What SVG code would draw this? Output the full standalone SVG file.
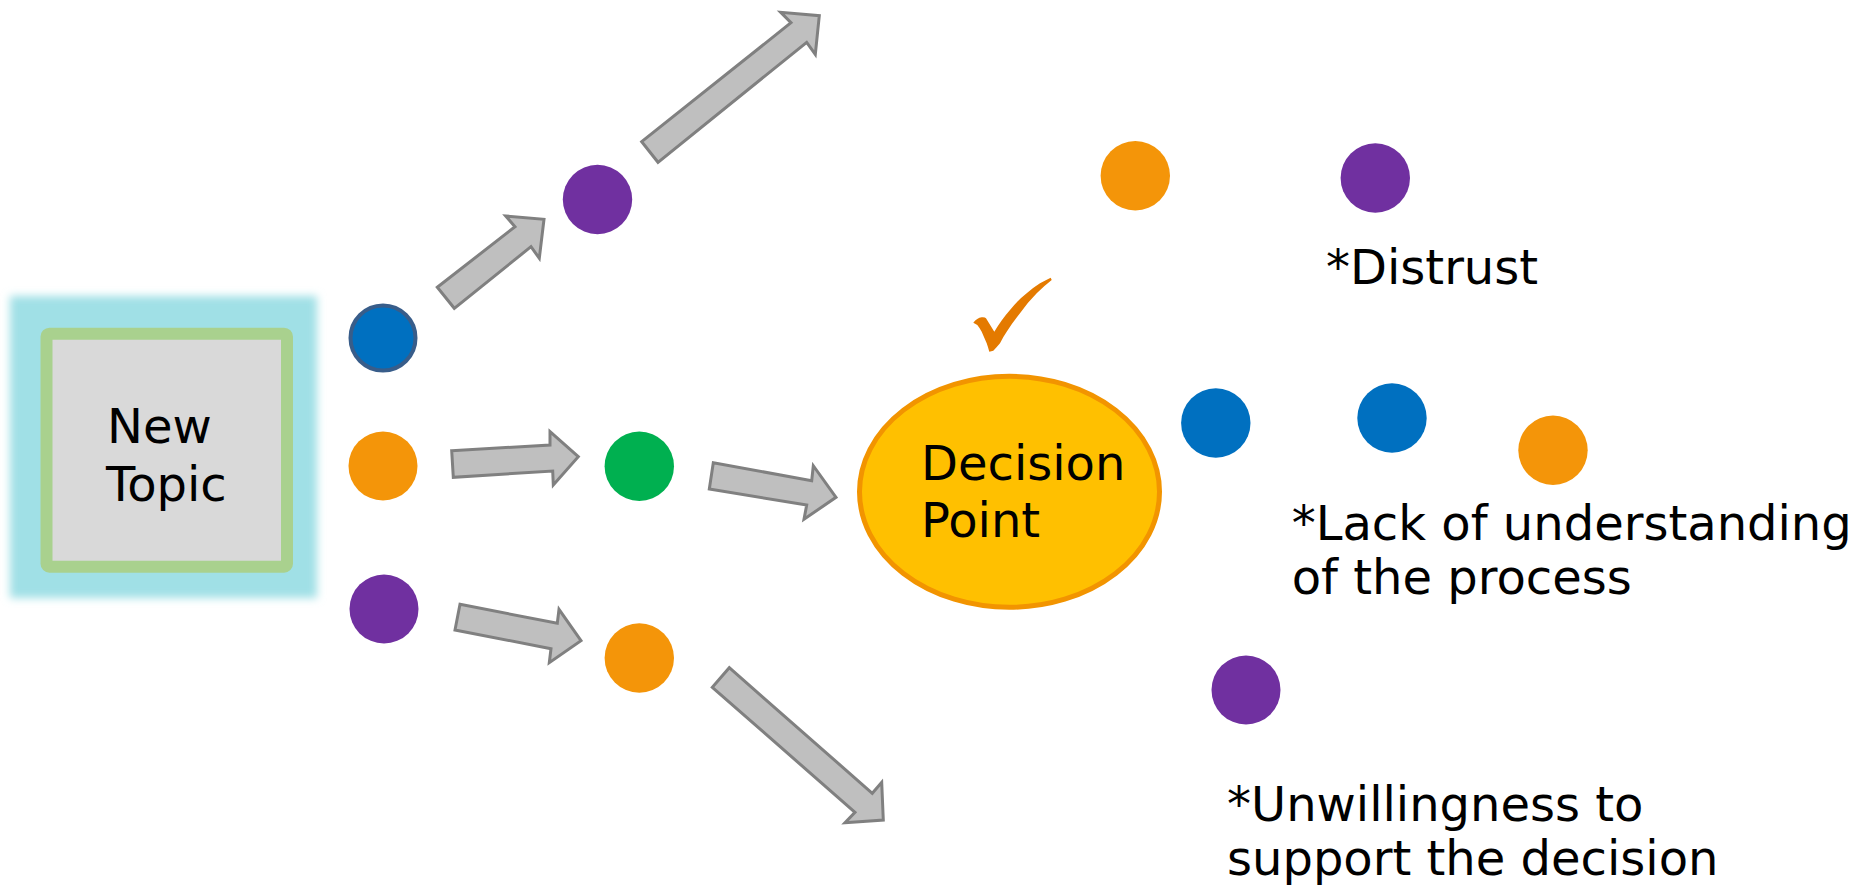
<svg xmlns="http://www.w3.org/2000/svg" width="1868" height="888" viewBox="0 0 1868 888">
<style>
  .t { font-family: "DejaVu Sans", Verdana, sans-serif; font-size: 48px; fill: #000; }
  .arrow { fill: #BFBFBF; stroke: #808080; stroke-width: 3; stroke-linejoin: miter; }
  .orange { fill: #F49509; }
  .purple { fill: #7030A0; }
  .blue { fill: #0070C0; }
  .green { fill: #00B050; }
</style>
<defs>
  <filter id="soft" x="-10%" y="-10%" width="120%" height="120%">
    <feGaussianBlur stdDeviation="4"/>
  </filter>
</defs>
<rect width="1868" height="888" fill="#FFFFFF"/>

<g id="new-topic">
  <rect x="10" y="296" width="307" height="302" fill="#A0E0E6" filter="url(#soft)"/>
  <rect x="46.5" y="333.7" width="240.5" height="233" rx="3" fill="#D9D9D9" stroke="#A9D18E" stroke-width="12"/>
  <text class="t" x="107" y="443">New</text>
  <text class="t" x="106" y="500.7">Topic</text>
</g>

<g id="dot-blue-left"><circle cx="383" cy="338" r="32.5" class="blue" stroke="#385D8A" stroke-width="4"/></g>
<g id="dot-orange-left"><circle cx="383" cy="466" r="34.5" class="orange"/></g>
<g id="dot-purple-left"><circle cx="384" cy="609" r="34.5" class="purple"/></g>
<g id="dot-purple-top"><circle cx="597.5" cy="199.5" r="34.7" class="purple"/></g>
<g id="dot-green"><circle cx="639.3" cy="466.2" r="34.7" class="green"/></g>
<g id="dot-orange-low"><circle cx="639.3" cy="658" r="34.7" class="orange"/></g>

<g id="decision-point">
  <ellipse cx="1009.5" cy="491.8" rx="150" ry="115.5" fill="#FFC000" stroke="#F29400" stroke-width="5"/>
  <text class="t" x="921" y="480">Decision</text>
  <text class="t" x="921" y="536.7">Point</text>
</g>

<g id="checkmark">
  <path d="M973.3,322.7 Q977,318 981.7,317.3 Q985,317 986,318.3 L994.3,331.7 Q1002,319 1010,310 Q1018,300 1026.7,293.3 Q1034,287 1040,283.3 Q1046,280 1050.7,277.7 L1051.7,280 Q1044,286 1036.7,293.3 Q1028,302 1020,313.3 Q1013,322 1006.7,331.7 Q1003,337 1000,343.3 Q997,347 993.3,350.7 L989.3,351.7 Q988,347 986.7,343.3 Q984,337 981.7,331.7 Q979,327 977.3,325 Z" fill="#E47A00"/>
</g>

<g id="distrust">
  <circle cx="1135.3" cy="175.8" r="34.7" class="orange"/>
  <circle cx="1375.3" cy="178" r="34.7" class="purple"/>
  <text class="t" x="1326" y="284">*Distrust</text>
</g>

<g id="lack-of-understanding">
  <circle cx="1215.8" cy="423" r="34.7" class="blue"/>
  <circle cx="1392" cy="418" r="34.7" class="blue"/>
  <circle cx="1553" cy="450.3" r="34.7" class="orange"/>
  <text class="t" x="1291.7" y="540">*Lack of understanding</text>
  <text class="t" x="1291.7" y="594">of the process</text>
</g>

<g id="unwillingness">
  <circle cx="1246" cy="690" r="34.5" class="purple"/>
  <text class="t" x="1227" y="821">*Unwillingness to</text>
  <text class="t" x="1227" y="875">support the decision</text>
</g>

<g id="connectors">
  <polygon class="arrow" points="437.3,287.3 515,226.7 505.7,216 544,219.3 539.3,258.3 531,246.7 454.3,308.3"/>
  <polygon class="arrow" points="641.7,141.7 791,22.7 780.7,12.3 819.3,15.7 815.3,54.3 806.7,42.3 658,162.3"/>
  <polygon class="arrow" points="451.7,450.7 550,445 550,431.7 578.3,456.7 553.3,485 552.7,471 453.3,477.3"/>
  <polygon class="arrow" points="713.3,462.7 811.7,480.7 813.3,465.7 836,497.3 804,519.3 806.7,505 709.3,489"/>
  <polygon class="arrow" points="460,604.3 557.3,623.3 559,609.3 581,640.7 549.3,662.7 551,648.7 455,630"/>
  <polygon class="arrow" points="729.3,667.7 872.3,793.3 881.7,782.3 883.3,820 845,822.7 855,812.3 712.3,687.3"/>
</g>
</svg>
